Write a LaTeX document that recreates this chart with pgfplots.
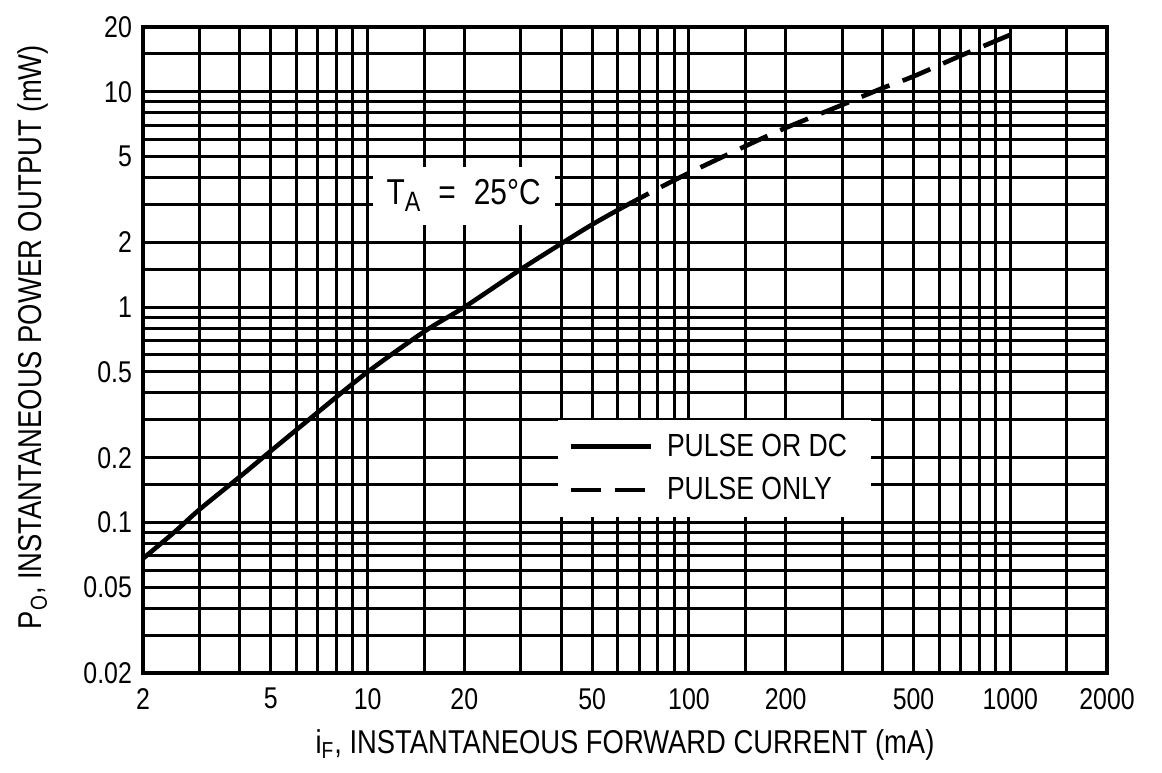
\documentclass[border=0pt]{standalone}
\usepackage{fontspec}
\setmainfont{Liberation Sans}[FakeStretch=0.83]
\usepackage{pgfplots}
\pgfplotsset{compat=1.18}

\begin{document}
\begin{tikzpicture}
% fix the page to the reference proportions (2 px = 1 pt)
\path[use as bounding box] (-71.5pt,-49.5pt) rectangle (509.5pt,336.5pt);
\begin{axis}[
    at={(0,0)}, anchor=south west,
    scale only axis,
    width=482pt, height=323pt,
    xmode=log, ymode=log,
    xmin=2, xmax=2000,
    ymin=0.02, ymax=20,
    xtick={2,5,10,20,50,100,200,500,1000,2000},
    xticklabels={2,5,10,20,50,100,200,500,1000,2000},
    minor xtick={3,4,6,7,8,9,15,30,40,60,70,80,90,150,300,400,600,700,800,900,1500},
    ytick={0.02,0.05,0.1,0.2,0.5,1,2,5,10,20},
    yticklabels={0.02,0.05,0.1,0.2,0.5,1,2,5,10,20},
    minor ytick={0.03,0.04,0.06,0.07,0.08,0.09,0.15,0.3,0.4,0.6,0.7,0.8,0.9,1.5,3,4,6,7,8,9,15},
    grid=both,
    major grid style={black, line width=1.5pt},
    minor grid style={black, line width=1.5pt},
    major tick length=0pt, minor tick length=0pt,
    axis line style={line width=1.8pt},
    every tick label/.append style={font=\fontsize{15}{17}\selectfont},
    xticklabel style={yshift=-4pt},
    yticklabel style={xshift=-2pt},
    xlabel={i\textsubscript{F}, INSTANTANEOUS FORWARD CURRENT (mA)},
    ylabel={P\textsubscript{O}, INSTANTANEOUS POWER OUTPUT (mW)},
    label style={font=\fontsize{16.5}{18}\selectfont},
    xlabel style={at={(axis description cs:0.5,-0.111)}, anchor=center},
    ylabel style={at={(axis description cs:-0.114,0.52)}, anchor=center},
    legend style={at={(0.4305,0.2415)}, anchor=south west,
        draw=none, fill=white, inner xsep=5pt, inner ysep=5pt,
        font=\fontsize{16}{18}\selectfont, row sep=5pt,
        nodes={inner xsep=7pt}},
    legend cell align=left,
    legend image code/.code={\draw[#1] (0pt,0pt) -- (40pt,0pt);},
]

% pulse or DC (solid)
\addplot[black, line width=2.3pt, smooth] coordinates {
    (2,0.068) (2.5,0.09) (3,0.115) (4,0.163) (5,0.215) (7,0.325)
    (10,0.5) (15,0.77) (20,1.0) (30,1.5) (40,1.97) (50,2.42) (62,2.9)
};
\addlegendentry{PULSE OR DC}

% pulse only (dashed)
\addplot[black, line width=2.3pt, smooth, dash pattern=on 15pt off 7pt] coordinates {
    (62,2.9) (80,3.55) (100,4.2) (150,5.6) (200,6.8) (300,8.7)
    (400,10.4) (500,11.8) (700,14.7) (1000,18.4)
};
\addlegendentry{PULSE ONLY}

\node[fill=white, minimum width=91pt, minimum height=29pt, inner sep=0pt,
      font=\fontsize{18}{20}\selectfont]
    at (axis cs:19.9,3.3) {T\raisebox{-0.35ex}{\fontsize{14}{15}\selectfont A}\enspace=\enspace25°C};

\end{axis}
\end{tikzpicture}
\end{document}
